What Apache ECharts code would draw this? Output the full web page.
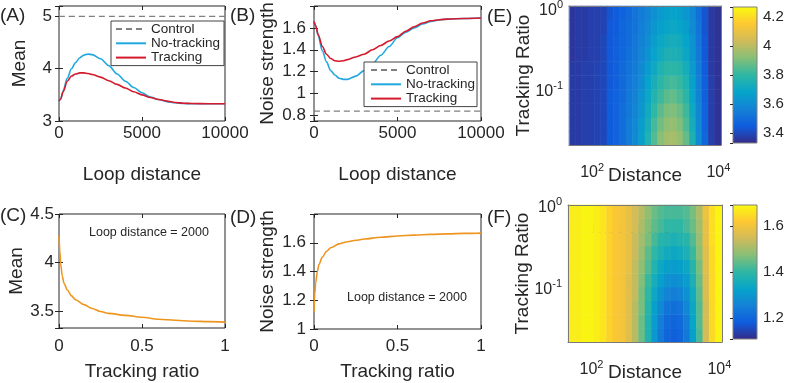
<!DOCTYPE html>
<html>
<head>
<meta charset="utf-8">
<script src="https://cdn.jsdelivr.net/npm/echarts@6/dist/echarts.min.js"></script>
<style>
html, body { margin: 0; padding: 0; background: #fff; }
#chart { width: 785px; height: 383px; }
</style>
</head>
<body>
<div id="chart"></div>
<script>
// ---- data ----
// (A)/(B) loop distance sweep
const loopDist = [0, 100, 250, 500, 750, 1000, 1250, 1500, 1750, 2000, 2500, 3000, 3500, 4000, 4500, 5000, 5500, 6000, 6500, 7000, 7500, 8000, 9000, 10000];
const meanNoTrack = [3.38, 3.42, 3.58, 3.82, 4.00, 4.12, 4.21, 4.26, 4.28, 4.27, 4.19, 4.06, 3.90, 3.76, 3.64, 3.54, 3.46, 3.41, 3.37, 3.35, 3.335, 3.33, 3.33, 3.33];
const meanTrack = [3.38, 3.42, 3.56, 3.76, 3.86, 3.90, 3.92, 3.92, 3.91, 3.89, 3.84, 3.77, 3.70, 3.63, 3.56, 3.50, 3.45, 3.41, 3.38, 3.355, 3.34, 3.335, 3.33, 3.33];
const noiseNoTrack = [1.66, 1.62, 1.53, 1.39, 1.29, 1.21, 1.17, 1.14, 1.13, 1.13, 1.16, 1.21, 1.27, 1.35, 1.43, 1.51, 1.56, 1.60, 1.635, 1.66, 1.672, 1.68, 1.686, 1.69];
const noiseTrack = [1.66, 1.62, 1.54, 1.43, 1.36, 1.32, 1.30, 1.295, 1.30, 1.31, 1.335, 1.36, 1.40, 1.44, 1.48, 1.52, 1.57, 1.61, 1.645, 1.665, 1.675, 1.68, 1.686, 1.69];
const controlDist = [0, 10000];
const controlMean = [5, 5];
const controlNoise = [0.84, 0.84];

// (C)/(D) tracking ratio sweep at loop distance 2000
const ratioPts = [0, 0.005, 0.01, 0.02, 0.03, 0.05, 0.075, 0.1, 0.15, 0.2, 0.25, 0.3, 0.4, 0.5, 0.6, 0.7, 0.8, 0.9, 1];
const meanVsRatio = [4.28, 4.12, 3.99, 3.86, 3.79, 3.72, 3.66, 3.62, 3.57, 3.53, 3.50, 3.48, 3.46, 3.44, 3.42, 3.41, 3.40, 3.395, 3.39];
const noiseVsRatio = [1.12, 1.25, 1.32, 1.40, 1.45, 1.50, 1.54, 1.565, 1.592, 1.607, 1.617, 1.626, 1.638, 1.647, 1.653, 1.658, 1.662, 1.665, 1.667];

// (E)/(F) maps: 24 log-distance columns (left->right), 10 log-ratio rows (bottom->top)
const distCols = ['49', '62', '78', '96', '120', '152', '191', '240', '302', '372', '468', '589', '741', '933', '1148', '1445', '1820', '2291', '2884', '3631', '4467', '5623', '7079', '8913'];
const ratioRows = ['0.028', '0.041', '0.059', '0.085', '0.126', '0.182', '0.269', '0.389', '0.562', '0.832'];
const meanMap = [
  [3.37, 3.37, 3.38, 3.38, 3.39, 3.40, 3.45, 3.47, 3.50, 3.55, 3.60, 3.67, 3.76, 3.85, 3.92, 3.96, 3.97, 3.94, 3.87, 3.75, 3.60, 3.48, 3.38, 3.35],
  [3.37, 3.37, 3.38, 3.38, 3.39, 3.40, 3.45, 3.47, 3.50, 3.55, 3.59, 3.66, 3.74, 3.83, 3.89, 3.93, 3.94, 3.91, 3.84, 3.73, 3.59, 3.47, 3.38, 3.35],
  [3.37, 3.37, 3.38, 3.38, 3.39, 3.40, 3.45, 3.47, 3.50, 3.54, 3.58, 3.64, 3.72, 3.80, 3.86, 3.90, 3.91, 3.88, 3.82, 3.71, 3.58, 3.47, 3.38, 3.35],
  [3.37, 3.37, 3.38, 3.38, 3.39, 3.40, 3.45, 3.47, 3.49, 3.54, 3.57, 3.63, 3.70, 3.77, 3.82, 3.86, 3.87, 3.84, 3.79, 3.69, 3.57, 3.46, 3.38, 3.35],
  [3.37, 3.37, 3.38, 3.38, 3.39, 3.40, 3.44, 3.46, 3.49, 3.53, 3.56, 3.61, 3.68, 3.74, 3.79, 3.82, 3.83, 3.81, 3.76, 3.67, 3.56, 3.46, 3.38, 3.35],
  [3.37, 3.37, 3.38, 3.38, 3.39, 3.40, 3.44, 3.46, 3.49, 3.52, 3.55, 3.60, 3.66, 3.71, 3.76, 3.79, 3.79, 3.78, 3.73, 3.65, 3.55, 3.45, 3.37, 3.35],
  [3.36, 3.37, 3.37, 3.38, 3.38, 3.40, 3.44, 3.46, 3.48, 3.51, 3.54, 3.58, 3.63, 3.68, 3.72, 3.75, 3.75, 3.74, 3.70, 3.63, 3.54, 3.44, 3.37, 3.35],
  [3.36, 3.37, 3.37, 3.38, 3.38, 3.40, 3.44, 3.46, 3.48, 3.50, 3.53, 3.57, 3.61, 3.66, 3.70, 3.72, 3.73, 3.72, 3.68, 3.62, 3.53, 3.44, 3.37, 3.35],
  [3.36, 3.37, 3.37, 3.38, 3.38, 3.39, 3.44, 3.45, 3.48, 3.50, 3.52, 3.56, 3.60, 3.64, 3.67, 3.69, 3.70, 3.69, 3.66, 3.60, 3.52, 3.43, 3.37, 3.35],
  [3.36, 3.37, 3.37, 3.38, 3.38, 3.39, 3.43, 3.45, 3.47, 3.49, 3.52, 3.55, 3.58, 3.62, 3.65, 3.67, 3.68, 3.67, 3.64, 3.59, 3.51, 3.43, 3.37, 3.35]
];
const noiseMap = [
  [1.67, 1.67, 1.68, 1.68, 1.67, 1.66, 1.63, 1.61, 1.60, 1.57, 1.52, 1.45, 1.38, 1.30, 1.24, 1.20, 1.19, 1.20, 1.24, 1.32, 1.42, 1.55, 1.64, 1.68],
  [1.67, 1.67, 1.68, 1.68, 1.67, 1.66, 1.63, 1.61, 1.60, 1.57, 1.52, 1.45, 1.38, 1.31, 1.25, 1.21, 1.20, 1.21, 1.25, 1.33, 1.43, 1.55, 1.64, 1.68],
  [1.67, 1.67, 1.68, 1.68, 1.67, 1.66, 1.63, 1.61, 1.60, 1.57, 1.52, 1.46, 1.39, 1.32, 1.27, 1.23, 1.22, 1.23, 1.27, 1.34, 1.43, 1.55, 1.64, 1.68],
  [1.67, 1.67, 1.68, 1.68, 1.67, 1.66, 1.63, 1.61, 1.60, 1.57, 1.53, 1.46, 1.40, 1.34, 1.29, 1.26, 1.25, 1.26, 1.29, 1.35, 1.44, 1.56, 1.64, 1.68],
  [1.67, 1.67, 1.68, 1.68, 1.67, 1.66, 1.63, 1.61, 1.60, 1.57, 1.53, 1.47, 1.41, 1.36, 1.32, 1.29, 1.28, 1.29, 1.31, 1.37, 1.45, 1.56, 1.64, 1.68],
  [1.67, 1.67, 1.68, 1.68, 1.67, 1.66, 1.63, 1.61, 1.60, 1.58, 1.53, 1.48, 1.43, 1.38, 1.34, 1.32, 1.31, 1.32, 1.34, 1.39, 1.46, 1.57, 1.64, 1.68],
  [1.67, 1.67, 1.68, 1.68, 1.67, 1.66, 1.63, 1.61, 1.60, 1.58, 1.54, 1.49, 1.44, 1.40, 1.37, 1.35, 1.34, 1.35, 1.37, 1.41, 1.48, 1.57, 1.64, 1.68],
  [1.67, 1.67, 1.68, 1.68, 1.67, 1.66, 1.63, 1.61, 1.60, 1.58, 1.54, 1.50, 1.46, 1.42, 1.39, 1.38, 1.37, 1.38, 1.39, 1.43, 1.49, 1.58, 1.65, 1.68],
  [1.67, 1.67, 1.68, 1.68, 1.67, 1.66, 1.63, 1.61, 1.60, 1.58, 1.55, 1.51, 1.47, 1.44, 1.42, 1.40, 1.40, 1.40, 1.42, 1.45, 1.50, 1.58, 1.65, 1.68],
  [1.67, 1.67, 1.68, 1.68, 1.67, 1.66, 1.63, 1.61, 1.60, 1.58, 1.55, 1.52, 1.48, 1.45, 1.43, 1.42, 1.42, 1.42, 1.43, 1.46, 1.51, 1.59, 1.65, 1.68]
];
const meanRange = [3.33, 4.27];
const noiseRange = [1.11, 1.69];

// parula-like colormap
const parula = ['#352A87', '#0F5CDD', '#1481D6', '#06A4CA', '#2EB7A4', '#87BF77', '#D1BB59', '#FEC832', '#F9FB0E'];

// ---- layout / style ----
const FONT = '"Liberation Sans", Arial, Helvetica, sans-serif';
const INK = '#262626';
const pairs = (xs, ys) => xs.map((x, i) => [x, ys[i]]);
// label only multiples of step, never the top end
const onStep = (step, top) => (v) =>
  (Math.abs(v / step - Math.round(v / step)) < 1e-6 && (top === undefined || v < top - 1e-9)) ? String(+v.toFixed(4)) : '';
const mapData = (grid) => {
  const out = [];
  grid.forEach((row, j) => row.forEach((v, k) => out.push([k, j, v])));
  return out;
};

const grids = [
  { left: 59, top: 6, width: 166, height: 115 },   // 0 A
  { left: 314, top: 6, width: 167, height: 115 },  // 1 B
  { left: 59, top: 214, width: 166, height: 114 }, // 2 C
  { left: 314, top: 214, width: 167, height: 115 },// 3 D
  { left: 569, top: 6, width: 152, height: 139 },  // 4 E map
  { left: 569, top: 6, width: 152, height: 139 },  // 5 E axes
  { left: 733, top: 7, width: 24, height: 136 },   // 6 E colorbar
  { left: 568, top: 205, width: 154, height: 137 },// 7 F map
  { left: 568, top: 205, width: 154, height: 137 },// 8 F axes
  { left: 733, top: 205, width: 24, height: 134 }  // 9 F colorbar
].map((g) => Object.assign({ outerBoundsMode: 'none', containLabel: false }, g));
[0, 1, 2, 3].forEach(i => Object.assign(grids[i], { show: true, borderColor: INK, borderWidth: 1, backgroundColor: '#fff' }));
const cbGradient = (stops) => ({
  type: 'linear', x: 0, y: 1, x2: 0, y2: 0,
  colorStops: stops.map((c, i) => ({ offset: i / (stops.length - 1), color: c }))
});
[6, 9].forEach(i => Object.assign(grids[i], { show: true, borderColor: '#808080', borderWidth: 1, backgroundColor: cbGradient(parula) }));

const xAxes = [], yAxes = [];
const addX = (o) => { xAxes.push(o); return xAxes.length - 1; };
const addY = (o) => { yAxes.push(o); return yAxes.length - 1; };
const tick = { inside: true, length: 4, lineStyle: { color: INK } };
const nameStyle = { fontSize: 19, color: INK, fontFamily: FONT };

function plotAxes(gi, xr, yr) {
  const x = addX({
    gridIndex: gi, type: 'value', position: 'bottom', min: xr.min, max: xr.max, interval: xr.interval,
    axisLine: { show: false }, axisTick: tick, splitLine: { show: false },
    axisLabel: { fontSize: 17, color: INK, fontFamily: FONT, margin: xr.margin, formatter: (v) => String(v) },
    name: xr.name, nameLocation: 'middle', nameGap: xr.gap, nameMoveOverlap: false, nameTextStyle: nameStyle
  });
  addX({
    gridIndex: gi, type: 'value', position: 'top', min: xr.min, max: xr.max, interval: xr.interval,
    axisLine: { show: false }, axisTick: tick, splitLine: { show: false }, axisLabel: { show: false }
  });
  const y = addY({
    gridIndex: gi, type: 'value', position: 'left', min: yr.min, max: yr.max, splitNumber: yr.split,
    axisLine: { show: false }, axisTick: tick, splitLine: { show: false },
    axisLabel: { fontSize: 17, color: INK, fontFamily: FONT, margin: yr.margin, formatter: onStep(yr.step, yr.max) },
    name: yr.name, nameLocation: 'middle', nameGap: yr.gap, nameMoveOverlap: false, nameTextStyle: nameStyle
  });
  addY({
    gridIndex: gi, type: 'value', position: 'right', min: yr.min, max: yr.max, splitNumber: yr.split,
    axisLine: { show: false }, axisTick: tick, splitLine: { show: false }, axisLabel: { show: false }
  });
  return { x, y };
}

const axA = plotAxes(0, { min: 0, max: 10000, interval: 5000, margin: 4, name: 'Loop distance', gap: 44 },
  { min: 3, max: 5.2, split: 2, step: 1, margin: 7, name: 'Mean', gap: 30 });
const axB = plotAxes(1, { min: 0, max: 10000, interval: 5000, margin: 4, name: 'Loop distance', gap: 44 },
  { min: 0.75, max: 1.8, split: 5, step: 0.2, margin: 8, name: 'Noise strength', gap: 37 });
const axC = plotAxes(2, { min: 0, max: 1, interval: 0.5, margin: 10, name: 'Tracking ratio', gap: 34 },
  { min: 3.33, max: 4.5, split: 2, step: 0.5, margin: 5, name: 'Mean', gap: 33 });
const axD = plotAxes(3, { min: 0, max: 1, interval: 0.5, margin: 9, name: 'Tracking ratio', gap: 33 },
  { min: 1, max: 1.8, split: 4, step: 0.2, margin: 8, name: 'Noise strength', gap: 37 });
// C shows its 4.5 label at the top edge
yAxes[axC.y].axisLabel.formatter = onStep(0.5);

// map panels: hidden category axes for cells, log axes on top for labels
const sup = {
  b: { fontSize: 16, color: INK, fontFamily: FONT, verticalAlign: 'bottom' },
  s: { fontSize: 11, color: INK, fontFamily: FONT, verticalAlign: 'top', padding: [0, 0, 8, 0] }
};
const powLabel = (keep) => (v) => {
  const p = Math.round(Math.log10(v));
  if (Math.abs(Math.log10(v) - p) > 1e-6 || keep.indexOf(p) < 0) return '';
  return '{b|10}{s|' + p + '}';
};
function mapAxes(gi, ai, yMin, yMax) {
  const x = addX({ gridIndex: gi, type: 'category', data: distCols, show: false });
  const y = addY({ gridIndex: gi, type: 'category', data: ratioRows, show: false });
  const lineS = { show: true, lineStyle: { color: '#7a7a7a', width: 1 } };
  addX({
    gridIndex: ai, type: 'log', logBase: 10, min: 43, max: 11000, position: 'bottom', z: 5,
    axisLine: lineS, axisTick: { show: false }, splitLine: { show: false },
    axisLabel: { formatter: powLabel([2, 4]), rich: sup, margin: 17 },
    name: 'Distance', nameLocation: 'middle', nameGap: 21, nameMoveOverlap: false, nameTextStyle: nameStyle
  });
  addX({ gridIndex: ai, type: 'log', logBase: 10, min: 43, max: 11000, position: 'top', z: 5,
    axisLine: lineS, axisTick: { show: false }, splitLine: { show: false }, axisLabel: { show: false } });
  addY({
    gridIndex: ai, type: 'log', logBase: 10, min: yMin, max: yMax, position: 'left', z: 5,
    axisLine: lineS, axisTick: { show: false }, splitLine: { show: false },
    axisLabel: { formatter: powLabel([-1, 0]), rich: sup, margin: 6 },
    name: 'Tracking Ratio', nameLocation: 'middle', nameGap: 36, nameMoveOverlap: false, nameTextStyle: nameStyle
  });
  addY({ gridIndex: ai, type: 'log', logBase: 10, min: yMin, max: yMax, position: 'right', z: 5,
    axisLine: lineS, axisTick: { show: false }, splitLine: { show: false }, axisLabel: { show: false } });
  return { x, y };
}
const axE = mapAxes(4, 5, 0.021, 1.08);
const axF = mapAxes(7, 8, 0.022, 1.02);

function colorbarAxes(gi, range, split) {
  addX({ gridIndex: gi, type: 'value', show: false });
  addY({
    gridIndex: gi, type: 'value', position: 'right', min: range[0], max: range[1], splitNumber: split,
    axisLine: { show: false }, axisTick: { inside: true, length: 3, lineStyle: { color: INK } },
    splitLine: { show: false },
    axisLabel: { fontSize: 15, color: INK, fontFamily: FONT, margin: 6, formatter: onStep(0.2) }
  });
}
colorbarAxes(6, meanRange, 5);
colorbarAxes(9, noiseRange, 3);

const BLUE = '#20A8DF', RED = '#D41A2C', GRAY = '#808080', ORANGE = '#EE951F';
const lineSeries = (name, ax, xs, ys, color, dashed) => ({
  name, type: 'line', xAxisIndex: ax.x, yAxisIndex: ax.y, data: pairs(xs, ys),
  symbol: 'none', smooth: 0.3, smoothMonotone: 'x', silent: true, z: 3,
  lineStyle: { color, width: dashed ? 1.3 : 1.6, type: dashed ? [6, 4] : 'solid' },
  itemStyle: { color }
});

const legendBase = {
  orient: 'vertical', itemWidth: 30, itemHeight: 14, itemGap: 0.3,
  data: ['Control', 'No-tracking', 'Tracking'],
  itemStyle: { opacity: 0 },
  backgroundColor: '#fff', borderColor: '#444', borderWidth: 1, borderRadius: 0,
  textStyle: { fontSize: 13.5, color: INK, fontFamily: FONT }, selectedMode: false
};

const txt = (x, y, text, size, extra) => ({
  type: 'text', x, y, silent: true,
  style: Object.assign({ text, fontSize: size, fontFamily: FONT, fill: INK, align: 'left', verticalAlign: 'middle' }, extra || {})
});

const option = {
  animation: false,
  backgroundColor: '#fff',
  textStyle: { fontFamily: FONT },
  grid: grids,
  xAxis: xAxes,
  yAxis: yAxes,
  legend: [
    Object.assign({ left: 111, top: 21, padding: [1, 4, 1, 4] }, legendBase),
    Object.assign({ left: 364, top: 62, padding: [1, 2, 1, 6] }, legendBase)
  ],
  visualMap: [
    { type: 'continuous', show: false, seriesIndex: 8, min: meanRange[0], max: meanRange[1], inRange: { color: parula } },
    { type: 'continuous', show: false, seriesIndex: 9, min: noiseRange[0], max: noiseRange[1], inRange: { color: parula } }
  ],
  series: [
    lineSeries('Control', axA, controlDist, controlMean, GRAY, true),
    lineSeries('No-tracking', axA, loopDist, meanNoTrack, BLUE),
    lineSeries('Tracking', axA, loopDist, meanTrack, RED),
    lineSeries('Control', axB, controlDist, controlNoise, GRAY, true),
    lineSeries('No-tracking', axB, loopDist, noiseNoTrack, BLUE),
    lineSeries('Tracking', axB, loopDist, noiseTrack, RED),
    lineSeries('Mean vs ratio', axC, ratioPts, meanVsRatio, ORANGE),
    lineSeries('Noise vs ratio', axD, ratioPts, noiseVsRatio, ORANGE),
    { name: 'Mean map', type: 'heatmap', xAxisIndex: axE.x, yAxisIndex: axE.y, data: mapData(meanMap), silent: true, itemStyle: { borderWidth: 0 } },
    { name: 'Noise map', type: 'heatmap', xAxisIndex: axF.x, yAxisIndex: axF.y, data: mapData(noiseMap), silent: true, itemStyle: { borderWidth: 0 } }
  ],
  graphic: [
    txt(0, 16, '(A)', 19), txt(230, 16, '(B)', 19), txt(487, 17, '(E)', 19),
    txt(0, 216, '(C)', 19), txt(230, 218, '(D)', 19), txt(487, 218, '(F)', 19),
    txt(89, 233, 'Loop distance = 2000', 12.5),
    txt(347, 298, 'Loop distance = 2000', 12.5),
    txt(651, 32, 'Mean', 16, { fill: '#111' }),
    txt(584, 229, 'Noise strength', 15.5, { fill: '#111' })
  ]
};

const chart = echarts.init(document.getElementById('chart'), null, { renderer: 'canvas' });
chart.setOption(option);
</script>
</body>
</html>
